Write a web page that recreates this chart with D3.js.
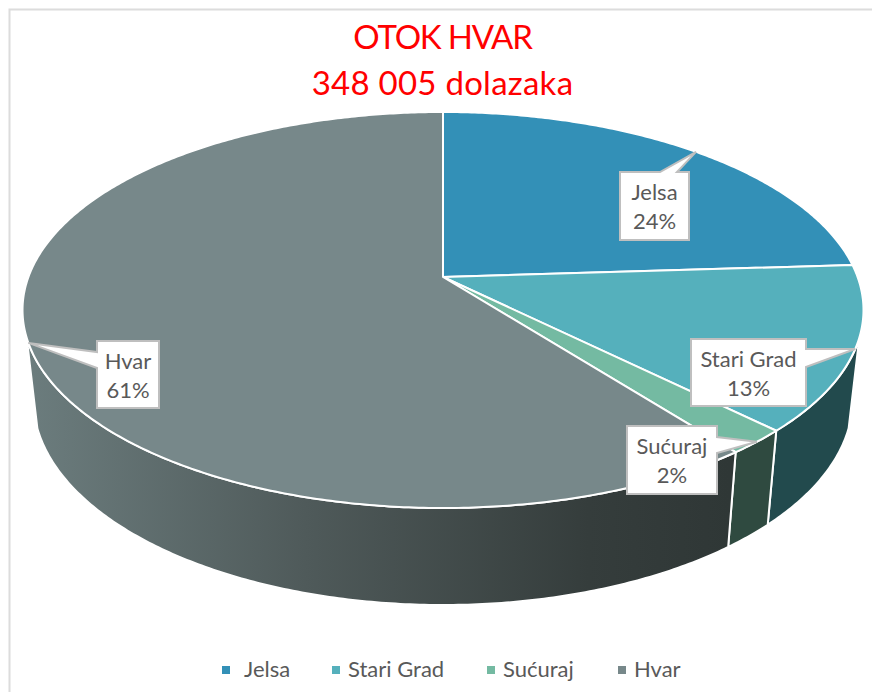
<!DOCTYPE html>
<html><head><meta charset="utf-8">
<script src="https://cdn.jsdelivr.net/npm/d3@7"></script>
<style>html,body{margin:0;padding:0;background:#fff}svg{display:block}text{font-family:Lato,sans-serif}</style>
</head><body><div id="chart"></div>
<script>
const categories = ["Jelsa", "Stari Grad", "Sućuraj", "Hvar"];
const shares = [24, 13.45, 2.05, 60.5];
const titleLines = ["OTOK HVAR", "348 005 dolazaka"];
const topColors = ["#3390B7", "#55B0BC", "#74BAA2", "#77888A"];
const wallColors = ["#1F5A73", "#224A4D", "#2F4A40", "url(#hvarWall)"];
const calloutBoxes = [
  {x0:620,x1:689,y0:172,y1:240,side:"top",b0:660,b1:677},
  {x0:691,x1:806,y0:339,y1:406,side:"right",b0:349,b1:367},
  {x0:627,x1:717,y0:426,y1:494,side:"right",b0:437,b1:453},
  {x0:97,x1:159,y0:341,y1:408,side:"left",b0:352,b1:368}
];
const legendX = [222, 332, 487, 618];
const legendTextX = [244, 348, 503, 634];

const W = 872, H = 692;
const svg = d3.select("#chart").append("svg").attr("width", W).attr("height", H);

// perspective projection of the pie's top and bottom discs
const k = 0.1667;
const topRing = {cx:443, cy:277, R:414.6, A:192.5};
const botRing = {cx:443, cy:365, R:404, A:200};
function project(ring, a){
  const u = Math.sin(a), v = -Math.cos(a), s = 1/(1-k*v);
  return [ring.cx + ring.R*u*s, ring.cy + ring.A*v*s];
}
const line = d3.line();
function arcPts(ring, a0, a1){
  const n = Math.max(2, Math.ceil(Math.abs(a1-a0)/0.01));
  return d3.range(n+1).map(i => project(ring, a0 + (a1-a0)*i/n));
}

const defs = svg.append("defs");
const grad = defs.append("linearGradient").attr("id","hvarWall")
  .attr("gradientUnits","userSpaceOnUse").attr("x1",23).attr("x2",730).attr("y1",0).attr("y2",0);
[[0,"#6C7D7E"],[0.4,"#4F5A5A"],[0.8,"#353D3C"],[1,"#2F3736"]].forEach(d=>
  grad.append("stop").attr("offset",d[0]).attr("stop-color",d[1]));

// frame
svg.append("path").attr("d","M9.5,692V9.5H872").attr("fill","none").attr("stroke","#DCDCDC").attr("stroke-width",2);

// title
svg.append("g").selectAll("text").data(titleLines).join("text")
  .attr("x",442.5).attr("y",(d,i)=>[49,95][i]).attr("text-anchor","middle")
  .attr("font-size",33).attr("fill","#FF0000")
  .attr("letter-spacing",(d,i)=>[-1.2,0.25][i]).text(d=>d);

const pie = d3.pie().sort(null).value(d=>d);
const slices = pie(shares);

// walls: only the front part of the rim is visible
const wallStart = 107.5*Math.PI/180, wallEnd = 252.5*Math.PI/180;
svg.append("g").selectAll("path").data(slices).join("path")
  .attr("d", d=>{
    const a0 = Math.max(d.startAngle, wallStart), a1 = Math.min(d.endAngle, wallEnd);
    if (a1 <= a0) return null;
    return line(arcPts(topRing,a0,a1).concat(arcPts(botRing,a1,a0))) + "Z";
  })
  .attr("fill",(d,i)=>wallColors[i]).attr("stroke","#fff").attr("stroke-width",2).attr("stroke-linejoin","round");

// top surface
svg.append("g").selectAll("path").data(slices).join("path")
  .attr("d", d=> line([[topRing.cx,topRing.cy]].concat(arcPts(topRing,d.startAngle,d.endAngle))) + "Z")
  .attr("fill",(d,i)=>topColors[i]).attr("stroke","#fff").attr("stroke-width",2).attr("stroke-linejoin","round");

// callouts
function calloutPath(b, tip){
  const p = [[b.x0,b.y0]];
  if (b.side==="top") p.push([b.b0,b.y0],tip,[b.b1,b.y0]);
  p.push([b.x1,b.y0]);
  if (b.side==="right") p.push([b.x1,b.b0],tip,[b.x1,b.b1]);
  p.push([b.x1,b.y1],[b.x0,b.y1]);
  if (b.side==="left") p.push([b.x0,b.b1],tip,[b.x0,b.b0]);
  return line(p)+"Z";
}
const labels = svg.append("g").selectAll("g").data(slices).join("g");
labels.append("path")
  .attr("d",(d,i)=>calloutPath(calloutBoxes[i], project(topRing,(d.startAngle+d.endAngle)/2)))
  .attr("fill","#fff").attr("stroke","#BFBFBF").attr("stroke-width",2).attr("stroke-linejoin","miter");
labels.append("text").attr("text-anchor","middle").attr("font-size",22).attr("fill","#595959")
  .attr("x",(d,i)=>(calloutBoxes[i].x0+calloutBoxes[i].x1)/2)
  .attr("y",(d,i)=>calloutBoxes[i].y0+28).text((d,i)=>categories[i]);
labels.append("text").attr("text-anchor","middle").attr("font-size",22).attr("fill","#595959")
  .attr("x",(d,i)=>(calloutBoxes[i].x0+calloutBoxes[i].x1)/2)
  .attr("y",(d,i)=>calloutBoxes[i].y0+57).text(d=>Math.round(d.value)+"%");

// legend
const leg = svg.append("g").selectAll("g").data(categories).join("g");
leg.append("rect").attr("x",(d,i)=>legendX[i]).attr("y",666).attr("width",8).attr("height",8)
  .attr("fill",(d,i)=>topColors[i]);
leg.append("text").attr("x",(d,i)=>legendTextX[i]).attr("y",677).attr("font-size",22).attr("fill","#595959").text(d=>d);
</script></body></html>
